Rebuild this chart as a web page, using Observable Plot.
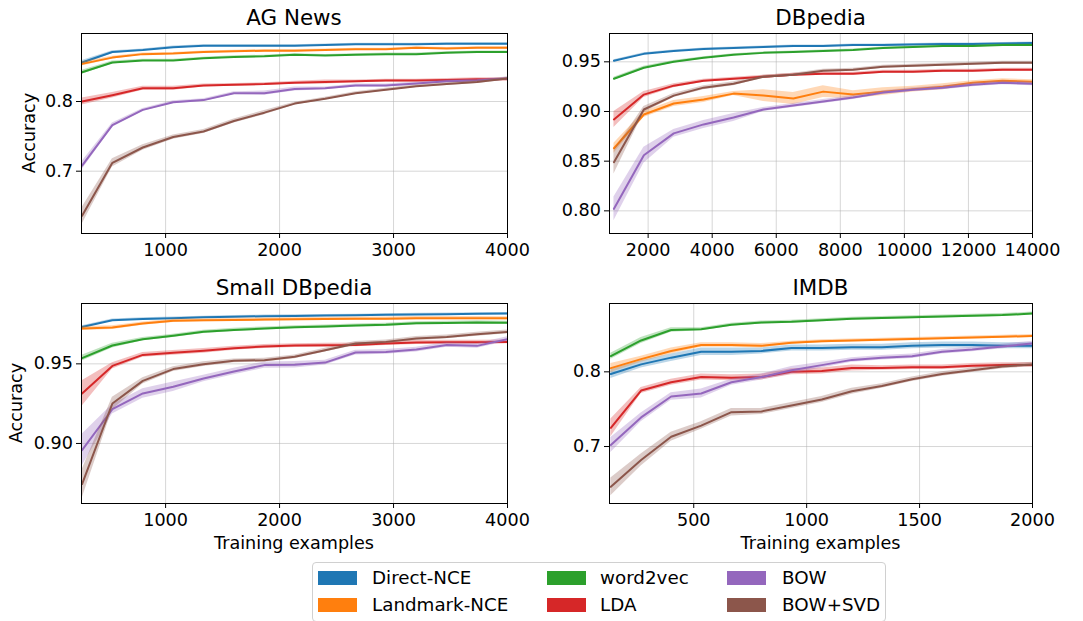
<!DOCTYPE html>
<html><head><meta charset="utf-8">
<script src="https://cdn.jsdelivr.net/npm/d3@7"></script>
<script src="https://cdn.jsdelivr.net/npm/@observablehq/plot@0.6"></script>
<style>
body{margin:0;background:#fff;font-family:"DejaVu Sans",sans-serif;}
#chart{position:relative;width:1083px;height:621px;overflow:hidden;background:#fff;}
.abs{position:absolute;white-space:nowrap;line-height:1;color:#000;}
</style></head><body><div id="chart"></div>
<script>
// ---- data ----
const methods = ["Direct-NCE","Landmark-NCE","word2vec","LDA","BOW","BOW+SVD"];
const colors = ["#1f77b4","#ff7f0e","#2ca02c","#d62728","#9467bd","#8c564b"];

const agNewsX = [267,533,800,1067,1333,1600,1867,2133,2400,2667,2933,3200,3467,3733,4000];
const dbpediaX = [933,1867,2800,3733,4667,5600,6533,7467,8400,9333,10267,11200,12133,13067,14000];
const smallDbpediaX = [267,533,800,1067,1333,1600,1867,2133,2400,2667,2933,3200,3467,3733,4000];
const imdbX = [133,267,400,533,667,800,933,1067,1200,1333,1467,1600,1733,1867,2000];

const agNewsXTicks = [1000,2000,3000,4000];
const agNewsYTicks = [0.7,0.8];
const dbpediaXTicks = [2000,4000,6000,8000,10000,12000,14000];
const dbpediaYTicks = [0.80,0.85,0.90,0.95];
const smallDbpediaXTicks = [1000,2000,3000,4000];
const smallDbpediaYTicks = [0.90,0.95];
const imdbXTicks = [500,1000,1500,2000];
const imdbYTicks = [0.7,0.8];

// mean accuracy, rows in the order of `methods`
const agNewsMean = [
  [0.856,0.871,0.874,0.878,0.880,0.880,0.880,0.880,0.881,0.882,0.882,0.882,0.883,0.883,0.883],
  [0.854,0.863,0.868,0.869,0.871,0.872,0.873,0.873,0.874,0.875,0.875,0.877,0.876,0.877,0.877],
  [0.842,0.856,0.859,0.859,0.862,0.864,0.865,0.867,0.866,0.867,0.868,0.868,0.870,0.871,0.871],
  [0.800,0.809,0.819,0.819,0.823,0.824,0.825,0.827,0.828,0.829,0.830,0.830,0.831,0.832,0.832],
  [0.708,0.766,0.788,0.799,0.802,0.812,0.812,0.818,0.819,0.823,0.823,0.826,0.829,0.830,0.833],
  [0.636,0.712,0.734,0.749,0.757,0.772,0.784,0.797,0.804,0.812,0.817,0.822,0.825,0.828,0.833]
];
const agNewsErr = [
  [0.003,0.002,0.0015,0.0015,0.0015,0.0015,0.0015,0.0015,0.0015,0.0015,0.0015,0.0015,0.0015,0.0015,0.0015],
  [0.003,0.002,0.0015,0.0015,0.0015,0.0015,0.0015,0.0015,0.0015,0.0015,0.0015,0.0015,0.0015,0.0015,0.0015],
  [0.003,0.002,0.0015,0.0015,0.0015,0.0015,0.0015,0.0015,0.0015,0.0015,0.0015,0.0015,0.0015,0.0015,0.0015],
  [0.005,0.004,0.003,0.003,0.002,0.002,0.002,0.002,0.003,0.002,0.002,0.002,0.002,0.002,0.002],
  [0.006,0.003,0.002,0.002,0.002,0.002,0.003,0.003,0.002,0.002,0.002,0.002,0.002,0.002,0.002],
  [0.012,0.006,0.004,0.003,0.003,0.003,0.003,0.002,0.002,0.002,0.002,0.002,0.002,0.002,0.002]
];

const dbpediaMean = [
  [0.951,0.958,0.961,0.963,0.964,0.965,0.966,0.966,0.967,0.967,0.9675,0.968,0.968,0.9685,0.969],
  [0.863,0.897,0.908,0.912,0.918,0.916,0.913,0.920,0.917,0.920,0.9225,0.925,0.929,0.931,0.930],
  [0.933,0.944,0.950,0.954,0.957,0.959,0.960,0.961,0.962,0.964,0.965,0.966,0.966,0.967,0.967],
  [0.892,0.917,0.926,0.931,0.933,0.935,0.937,0.938,0.938,0.940,0.940,0.941,0.941,0.942,0.942],
  [0.802,0.856,0.878,0.887,0.894,0.902,0.906,0.910,0.914,0.919,0.922,0.924,0.927,0.929,0.928],
  [0.849,0.902,0.916,0.924,0.928,0.935,0.937,0.941,0.942,0.945,0.946,0.947,0.948,0.949,0.949]
];
const dbpediaErr = [
  [0.0012,0.001,0.001,0.001,0.001,0.001,0.001,0.001,0.001,0.001,0.001,0.001,0.001,0.001,0.001],
  [0.005,0.003,0.003,0.003,0.002,0.006,0.006,0.006,0.004,0.004,0.003,0.003,0.002,0.002,0.002],
  [0.0015,0.0015,0.0012,0.0012,0.001,0.001,0.001,0.001,0.001,0.001,0.001,0.001,0.001,0.001,0.001],
  [0.008,0.003,0.002,0.0015,0.0015,0.0015,0.0015,0.0015,0.0015,0.0015,0.0015,0.0015,0.0015,0.0015,0.0015],
  [0.012,0.008,0.004,0.004,0.004,0.002,0.002,0.002,0.002,0.002,0.002,0.002,0.002,0.002,0.002],
  [0.012,0.003,0.002,0.002,0.002,0.0015,0.0015,0.0015,0.0015,0.0015,0.0015,0.0015,0.0015,0.0015,0.0015]
];

const smallDbpediaMean = [
  [0.9732,0.9774,0.9782,0.9787,0.9792,0.9796,0.9799,0.9801,0.9803,0.9805,0.9808,0.9810,0.9812,0.9814,0.9816],
  [0.9722,0.9728,0.9753,0.9770,0.9774,0.9776,0.9778,0.9780,0.9782,0.9784,0.9784,0.9787,0.9787,0.9787,0.9786],
  [0.9536,0.9615,0.9655,0.9676,0.9701,0.9713,0.9722,0.9730,0.9734,0.9741,0.9745,0.9755,0.9757,0.9760,0.9758],
  [0.9314,0.9487,0.9556,0.9569,0.9582,0.9598,0.9609,0.9615,0.9617,0.9619,0.9628,0.9634,0.9636,0.9636,0.9638],
  [0.8958,0.9215,0.9314,0.9356,0.9408,0.9452,0.9492,0.9494,0.9508,0.9571,0.9575,0.9590,0.9619,0.9613,0.9655],
  [0.8745,0.9251,0.9393,0.9467,0.9498,0.9519,0.9523,0.9544,0.9586,0.9628,0.9638,0.9659,0.9669,0.9686,0.9701]
];
const smallDbpediaErr = [
  [0.0008,0.0007,0.0007,0.0007,0.0007,0.0007,0.0007,0.0007,0.0007,0.0007,0.0007,0.0007,0.0007,0.0007,0.0007],
  [0.0012,0.0012,0.001,0.001,0.001,0.001,0.001,0.001,0.001,0.001,0.001,0.001,0.001,0.001,0.001],
  [0.0018,0.0015,0.001,0.001,0.001,0.001,0.001,0.001,0.001,0.001,0.001,0.001,0.001,0.001,0.001],
  [0.008,0.002,0.0015,0.0015,0.0015,0.0012,0.0012,0.0012,0.0012,0.0012,0.0012,0.0012,0.0012,0.0012,0.0012],
  [0.010,0.003,0.003,0.003,0.002,0.002,0.002,0.002,0.0015,0.0015,0.0015,0.0015,0.0015,0.0015,0.0015],
  [0.009,0.004,0.002,0.0015,0.0015,0.0012,0.0012,0.0012,0.0012,0.0012,0.0012,0.0012,0.0012,0.0012,0.0012]
];

const imdbMean = [
  [0.797,0.810,0.819,0.827,0.827,0.828,0.832,0.832,0.833,0.833,0.835,0.836,0.836,0.835,0.835],
  [0.805,0.817,0.828,0.836,0.836,0.835,0.839,0.841,0.842,0.843,0.844,0.845,0.846,0.847,0.848],
  [0.821,0.842,0.856,0.857,0.863,0.866,0.867,0.869,0.871,0.872,0.873,0.874,0.875,0.876,0.878],
  [0.725,0.775,0.786,0.793,0.792,0.793,0.800,0.801,0.805,0.805,0.806,0.806,0.808,0.809,0.809],
  [0.702,0.739,0.767,0.771,0.786,0.793,0.802,0.809,0.816,0.819,0.821,0.827,0.830,0.834,0.838],
  [0.646,0.682,0.713,0.728,0.746,0.747,0.755,0.763,0.774,0.781,0.790,0.797,0.802,0.807,0.810]
];
const imdbErr = [
  [0.006,0.005,0.005,0.005,0.005,0.004,0.004,0.004,0.004,0.004,0.004,0.004,0.004,0.004,0.004],
  [0.006,0.004,0.004,0.003,0.003,0.003,0.002,0.002,0.002,0.002,0.002,0.002,0.002,0.002,0.002],
  [0.004,0.004,0.003,0.002,0.002,0.002,0.002,0.002,0.002,0.002,0.002,0.002,0.002,0.002,0.002],
  [0.012,0.004,0.004,0.004,0.004,0.004,0.004,0.004,0.004,0.003,0.003,0.003,0.003,0.003,0.003],
  [0.010,0.006,0.005,0.006,0.004,0.004,0.005,0.004,0.003,0.003,0.003,0.003,0.003,0.003,0.003],
  [0.012,0.008,0.006,0.005,0.005,0.004,0.004,0.004,0.004,0.003,0.003,0.003,0.003,0.003,0.003]
];

// ---- layout ----
const chart = document.getElementById("chart");
const FONT = '"DejaVu Sans", sans-serif';
const TICK_FS = 17.6, LABEL_FS = 17.6, TITLE_FS = 21.4, LEGEND_FS = 18.3;

const panels = [
  {title:"AG News", xs:agNewsX, mean:agNewsMean, err:agNewsErr, xDomain:[262,4000], yDomain:[0.6106,0.8976],
   xTicks:agNewsXTicks, yTicks:agNewsYTicks, yFmt:".1f", left:81, top:33, w:426, h:200, yLabelX:29.5, xLabel:false},
  {title:"DBpedia", xs:dbpediaX, mean:dbpediaMean, err:dbpediaErr, xDomain:[794,14000], yDomain:[0.7772,0.9785],
   xTicks:dbpediaXTicks, yTicks:dbpediaYTicks, yFmt:".2f", left:609, top:33, w:423, h:200, yLabelX:null, xLabel:false},
  {title:"Small DBpedia", xs:smallDbpediaX, mean:smallDbpediaMean, err:smallDbpediaErr, xDomain:[262,4000], yDomain:[0.8623,0.9879],
   xTicks:smallDbpediaXTicks, yTicks:smallDbpediaYTicks, yFmt:".2f", left:81, top:303, w:426, h:200, yLabelX:17, xLabel:true},
  {title:"IMDB", xs:imdbX, mean:imdbMean, err:imdbErr, xDomain:[127,2000], yDomain:[0.6237,0.8915],
   xTicks:imdbXTicks, yTicks:imdbYTicks, yFmt:".1f", left:609, top:303, w:423, h:200, yLabelX:null, xLabel:true}
];

function addText(txt, fs, cx, baseline, extra) {
  const d = document.createElement("div");
  d.className = "abs";
  d.textContent = txt;
  d.style.fontSize = fs + "px";
  d.style.fontFamily = FONT;
  d.style.left = cx + "px";
  d.style.top = (baseline - 0.846 * fs) + "px";
  d.style.transform = "translateX(-50%)";
  if (extra) Object.assign(d.style, extra);
  chart.appendChild(d);
  return d;
}

const ML = 75, MR = 40, MT = 5, MB = 32;
panels.forEach(p => {
  const marks = [
    Plot.gridX({ticks: p.xTicks, stroke: "#b0b0b0", strokeOpacity: 0.5, strokeWidth: 1}),
    Plot.gridY({ticks: p.yTicks, stroke: "#b0b0b0", strokeOpacity: 0.5, strokeWidth: 1})
  ];
  methods.forEach((m, i) => {
    const rows = p.xs.map((x, j) => ({method: m, x, y: p.mean[i][j], lo: p.mean[i][j] - p.err[i][j], hi: p.mean[i][j] + p.err[i][j]}));
    marks.push(Plot.areaY(rows, {x: "x", y1: "lo", y2: "hi", fill: "method", fillOpacity: 0.3, clip: true}));
    marks.push(Plot.lineY(rows, {x: "x", y: "y", stroke: "method", strokeWidth: 2, clip: true}));
  });
  marks.push(Plot.frame({stroke: "#000", strokeWidth: 1}));
  marks.push(Plot.axisX({ticks: p.xTicks, tickFormat: d3.format("d"), tickSize: 5, tickPadding: 5, fontSize: TICK_FS, label: null}));
  marks.push(Plot.axisY({ticks: p.yTicks, tickFormat: d3.format(p.yFmt), tickSize: 5, tickPadding: 3.5, fontSize: TICK_FS, label: null}));

  const svg = Plot.plot({
    width: ML + p.w + MR, height: MT + p.h + MB,
    marginLeft: ML, marginRight: MR, marginTop: MT, marginBottom: MB,
    x: {type: "linear", domain: p.xDomain},
    y: {type: "linear", domain: p.yDomain},
    color: {domain: methods, range: colors},
    style: {background: "transparent", overflow: "visible", maxWidth: "none", fontFamily: FONT, fontSize: TICK_FS + "px", color: "#000"},
    marks
  });
  svg.style.position = "absolute";
  svg.style.left = (p.left - ML) + "px";
  svg.style.top = (p.top - MT) + "px";
  chart.appendChild(svg);

  addText(p.title, TITLE_FS, p.left + p.w / 2, p.top - 8);
  if (p.xLabel) addText("Training examples", LABEL_FS, p.left + p.w / 2, 550);
  if (p.yLabelX != null) {
    const d = document.createElement("div");
    d.className = "abs";
    d.textContent = "Accuracy";
    d.style.fontSize = LABEL_FS + "px";
    d.style.fontFamily = FONT;
    d.style.left = p.yLabelX + "px";
    d.style.top = (p.top + p.h / 2) + "px";
    d.style.transform = "translate(-50%,-50%) rotate(-90deg)";
    chart.appendChild(d);
  }
});

// ---- legend ----
const legend = document.createElement("div");
Object.assign(legend.style, {position: "absolute", left: "312px", top: "562px", width: "574px", height: "60px",
  border: "1px solid #d0d0d0", borderRadius: "4px", background: "#fff", boxSizing: "border-box"});
chart.appendChild(legend);
const colX = [318, 547, 727];
const textX = [372, 600, 782];
const rowSw = [571, 598];
const rowBase = [584.3, 611.7];
methods.forEach((m, i) => {
  const col = Math.floor(i / 2), row = i % 2;
  const sw = document.createElement("div");
  Object.assign(sw.style, {position: "absolute", left: colX[col] + "px", top: rowSw[row] + "px", width: "39px", height: "14px", background: colors[i]});
  chart.appendChild(sw);
  addText(m, LEGEND_FS, textX[col], rowBase[row], {transform: "none"});
});
</script></body></html>
